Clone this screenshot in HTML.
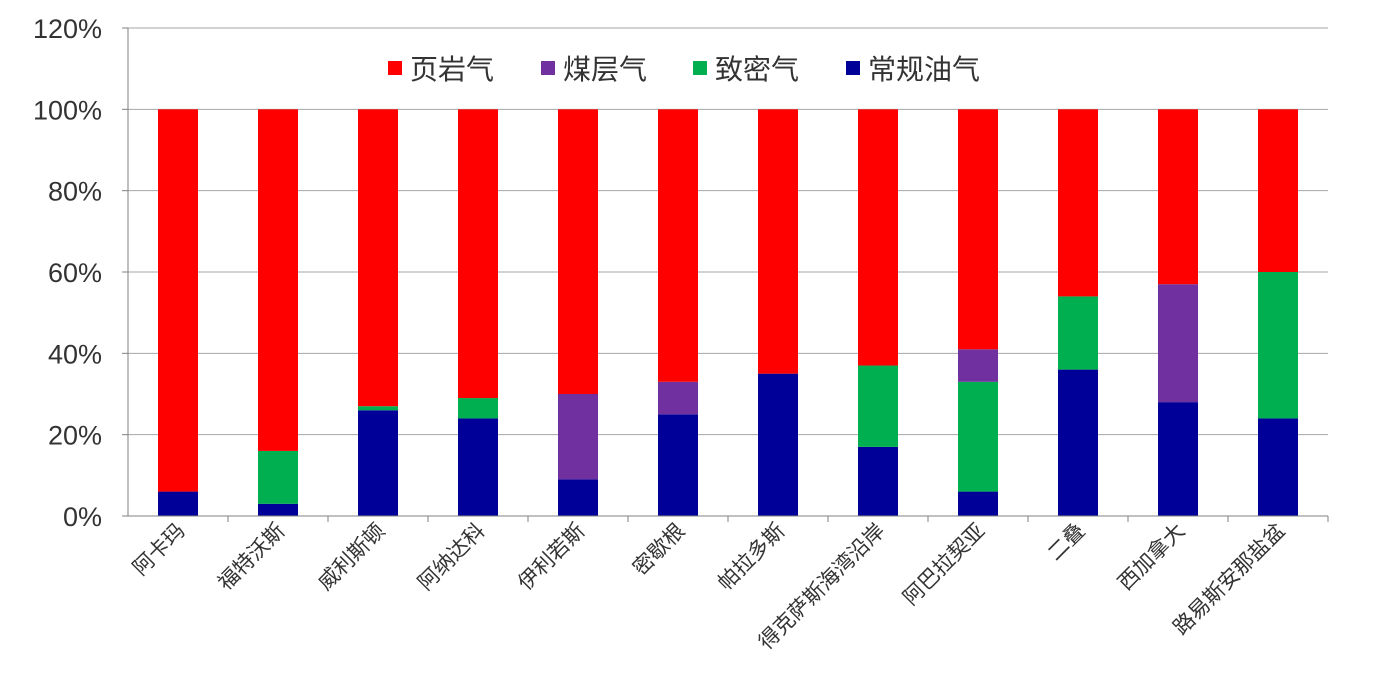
<!DOCTYPE html>
<html><head><meta charset="utf-8">
<style>
html,body{margin:0;padding:0;background:#fff;}
svg text{font-family:"Liberation Sans","Noto Sans CJK SC",sans-serif;}
</style></head>
<body>
<svg id="chart" width="1390" height="692" xmlns="http://www.w3.org/2000/svg">
<rect x="0" y="0" width="1390" height="692" fill="#fff"/>
<g id="grid"></g>
<g id="bars"></g>
<g id="axes"></g>
<g id="legend"></g>
</svg>
<script>
const categories = ["阿卡玛","福特沃斯","威利斯顿","阿纳达科","伊利若斯","密歇根","帕拉多斯","得克萨斯海湾沿岸","阿巴拉契亚","二叠","西加拿大","路易斯安那盐盆"];
const conventional = [6,3,26,24,9,25,35,17,6,36,28,24];
const tight = [0,13,1,5,0,0,0,20,27,18,0,36];
const coalbed = [0,0,0,0,21,8,0,0,8,0,29,0];
const shale = [94,84,73,71,70,67,65,63,59,46,43,40];
const yTicks = [0,20,40,60,80,100,120];
const seriesNames = ["页岩气","煤层气","致密气","常规油气"];

const NS="http://www.w3.org/2000/svg";
const x0=128, x1=1328, yBase=516, yTop=28;
const yScale=v=>yBase-(v/120)*(yBase-yTop);
const band=(x1-x0)/categories.length;
const xCenter=i=>x0+band*(i+0.5);
const barW=40;
function mk(tag,attrs,parent){const e=document.createElementNS(NS,tag);for(const k in attrs)e.setAttribute(k,attrs[k]);parent.appendChild(e);return e;}
const grid=document.getElementById('grid'),bars=document.getElementById('bars'),axes=document.getElementById('axes'),legend=document.getElementById('legend');

yTicks.forEach(t=>{
  const y=yScale(t);
  if(t>0){const l=mk('line',{x1:x0,x2:x1,y1:y,y2:y,stroke:'#a6a6a6','stroke-width':1},grid);
  
  }
  const tk=mk('line',{x1:x0-6,x2:x0,y1:y,y2:y,stroke:'#808080'},axes);
  
  
  const tx=mk('text',{x:x0-26,y:y+10,'text-anchor':'end','font-size':27,fill:'#333'},axes);
  tx.textContent=t+'%';
  
  
});
const ya=mk('line',{x1:x0,x2:x0,y1:yTop,y2:yBase,stroke:'#808080'},axes);


const xa=mk('line',{x1:x0,x2:x1,y1:yBase,y2:yBase,stroke:'#808080'},axes);



const series=[[conventional,'#000099','conventional'],[tight,'#00b050','tight'],[coalbed,'#7030a0','coalbed'],[shale,'#ff0000','shale']];
categories.forEach((c,i)=>{
  let acc=0;
  series.forEach(([arr,col,nm])=>{
    const v=arr[i]; if(v<=0) return;
    const y=yScale(acc+v), h=yScale(acc)-y;
    const r=mk('rect',{x:xCenter(i)-barW/2,y:y,width:barW,height:h,fill:col},bars);
    
    
    acc+=v;
  });
  const tk=mk('line',{x1:x0+band*(i+1),x2:x0+band*(i+1),y1:yBase,y2:yBase+6,stroke:'#808080'},axes);
  
  
  const lx=xCenter(i)+8, ly=532;
  const t=mk('text',{x:lx,y:ly,'text-anchor':'end','font-size':21,fill:'#333',transform:`rotate(-45 ${lx} ${ly})`},axes);
  t.textContent=c;
  
  
});

const legCols=['#ff0000','#7030a0','#00b050','#000099'];
const legX=[388,541,693,846];
seriesNames.forEach((n,i)=>{
  const s=mk('rect',{x:legX[i],y:61,width:14,height:14,fill:legCols[i]},legend);
  
  
  const t=mk('text',{x:legX[i]+22,y:79,'font-size':28,fill:'#333'},legend);
  t.textContent=n;
  
  
});
</script>
</body></html>
